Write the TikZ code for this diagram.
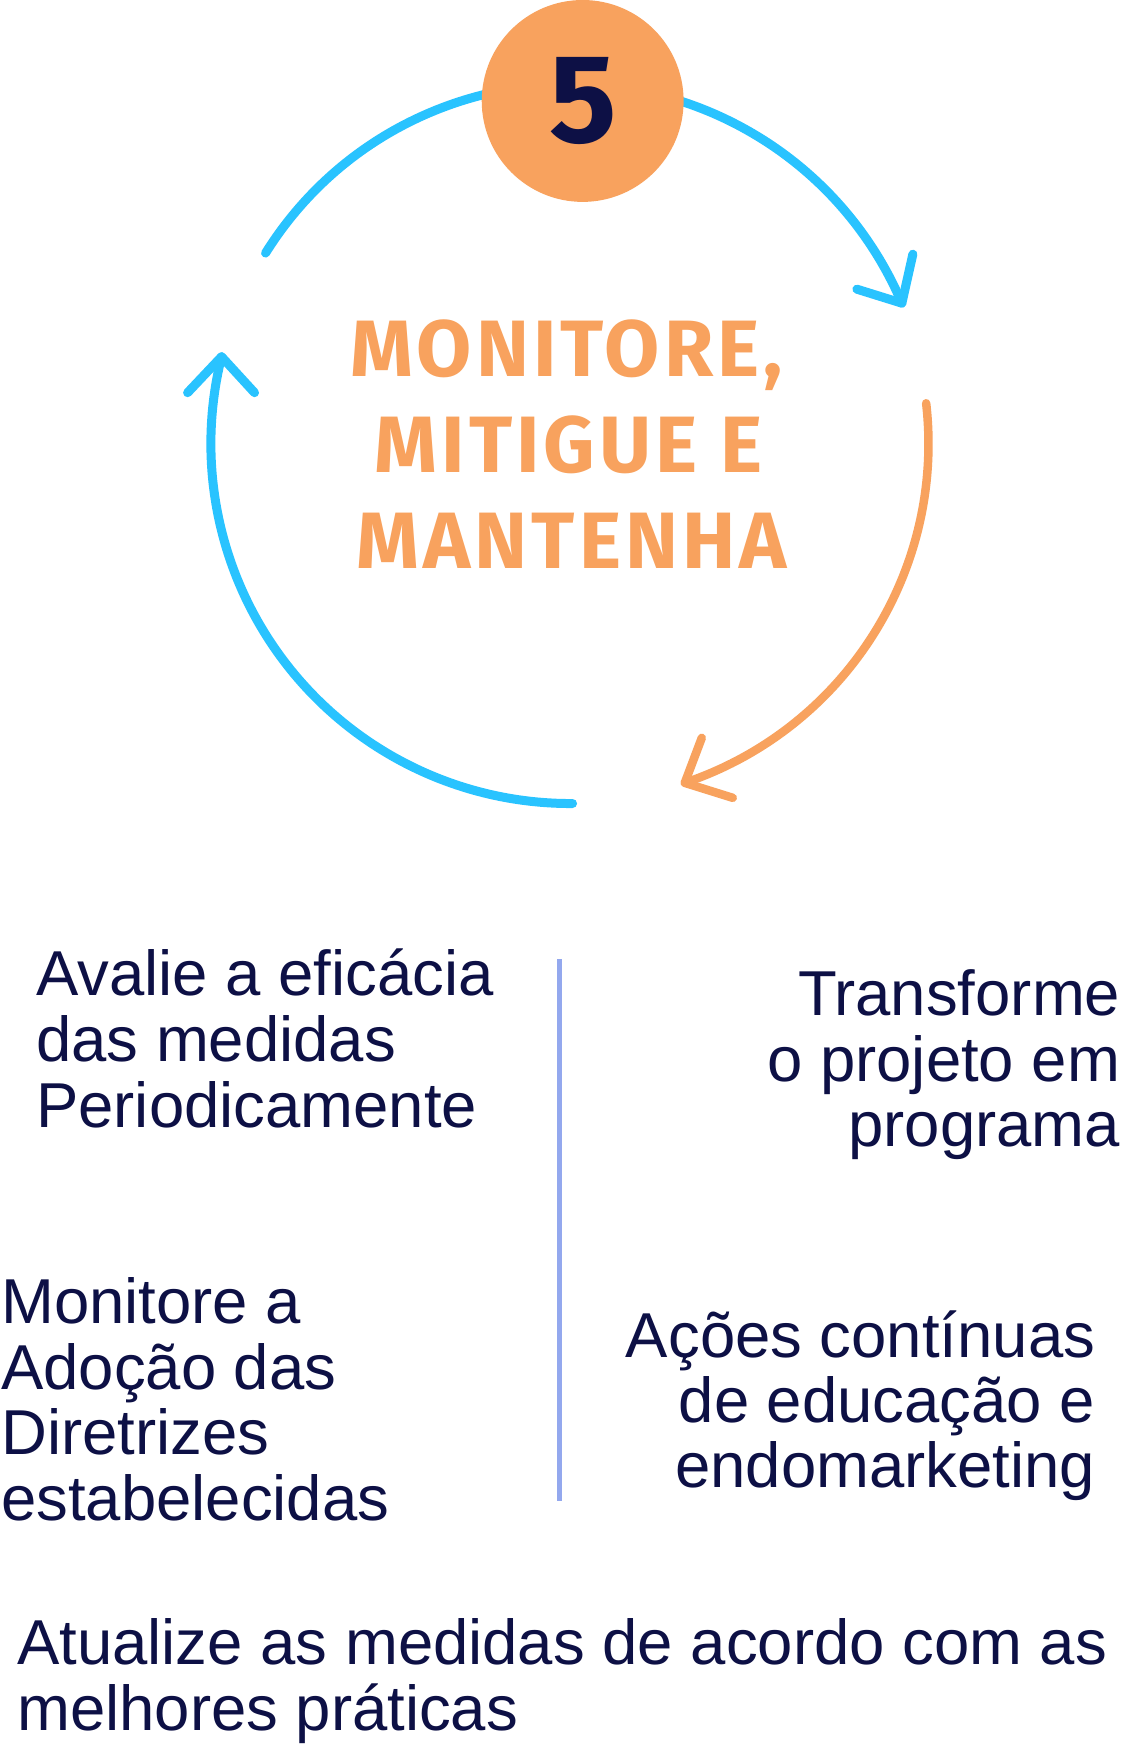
\documentclass[tikz,border=0pt]{standalone}
\usepackage{fontspec}
\setmainfont{Liberation Sans}
\newfontfamily\titlefont{Fira Sans}
\newfontfamily\titlefontwide{Fira Sans}[LetterSpace=5]
\definecolor{cyclblue}{HTML}{29C3FF}
\definecolor{cyclorange}{HTML}{F8A25E}
\definecolor{navy}{HTML}{0D1045}
\definecolor{lavender}{HTML}{93A8EE}
\begin{document}
\begin{tikzpicture}[x=1pt,y=-1pt,
  bluearc/.style={draw=cyclblue, line width=9pt, line cap=round, line join=round},
  orangearc/.style={draw=cyclorange, line width=8.5pt, line cap=round, line join=round},
  divider/.style={draw=lavender, line width=4.5pt},
  body/.style={font=\fontsize{63.5}{66}\selectfont, text=navy, inner sep=0pt},
  titletext/.style={font=\fontsize{80}{96}\selectfont\titlefontwide\bfseries, text=cyclorange, inner sep=0pt, anchor=base}]
\fill[white] (0,0) rectangle (1124,1745);
\coordinate (C) at (571,443);
% upper blue arc with arrow
\draw[bluearc] (C) ++(212:360) arc[start angle=212, end angle=337, radius=360] coordinate (t1);
\draw[bluearc] (t1) ++(11,-49) -- (t1) -- ++(-45,-14);
% orange arc with arrow
\draw[orangearc] (C) ++(-6.5:358) arc[start angle=-6.5, end angle=71.4, radius=358] coordinate (t2);
\draw[orangearc] (t2) ++(17,-45) -- (t2) -- ++(48,15);
% lower blue arc with arrow
\draw[bluearc] (C) ++(89.7:360) arc[start angle=89.7, end angle=194, radius=360] coordinate (t3);
\draw[bluearc] (t3) ++(-34,36) -- (t3) -- ++(33,36);
% badge
\node[circle, fill=cyclorange, minimum size=202pt, inner sep=0pt] (badge) at (583,100) {};
\node[font=\fontsize{126}{126}\selectfont\titlefont\bfseries, text=navy, inner sep=0pt] (five) at (584,100) {5};
% title
\node[titletext] (title1) at (567,376) {MONITORE,};
\node[titletext] (title2) at (569,472) {MITIGUE E};
\node[titletext] (title3) at (572,568) {MANTENHA};
% divider
\coordinate (vtop) at (560,959);
\coordinate (vbot) at (560,1501);
\draw[divider] (vtop) -- (vbot);
% left top
\node[body, anchor=base west] (a1) at (36,995) {Avalie a eficácia};
\node[body, anchor=base west] (a2) at (36,1061) {das medidas};
\node[body, anchor=base west] (a3) at (36,1127) {Periodicamente};
% right top
\node[body, anchor=base east] (b1) at (1121,1015) {Transforme};
\node[body, anchor=base east] (b2) at (1121,1081) {o projeto em};
\node[body, anchor=base east] (b3) at (1121,1146) {programa};
% left middle
\node[body, anchor=base west] (c1) at (1,1323) {Monitore a};
\node[body, anchor=base west] (c2) at (1,1389) {Adoção das};
\node[body, anchor=base west] (c3) at (1,1454) {Diretrizes};
\node[body, anchor=base west] (c4) at (1,1520) {estabelecidas};
% right middle
\node[body, anchor=base east] (d1) at (1096,1357) {Ações contínuas};
\node[body, anchor=base east] (d2) at (1096,1422) {de educação e};
\node[body, anchor=base east] (d3) at (1096,1487) {endomarketing};
% bottom
\node[body, anchor=base west] (e1) at (17,1664) {Atualize as medidas de acordo com as};
\node[body, anchor=base west] (e2) at (17,1730) {melhores práticas};
\end{tikzpicture}
\end{document}
